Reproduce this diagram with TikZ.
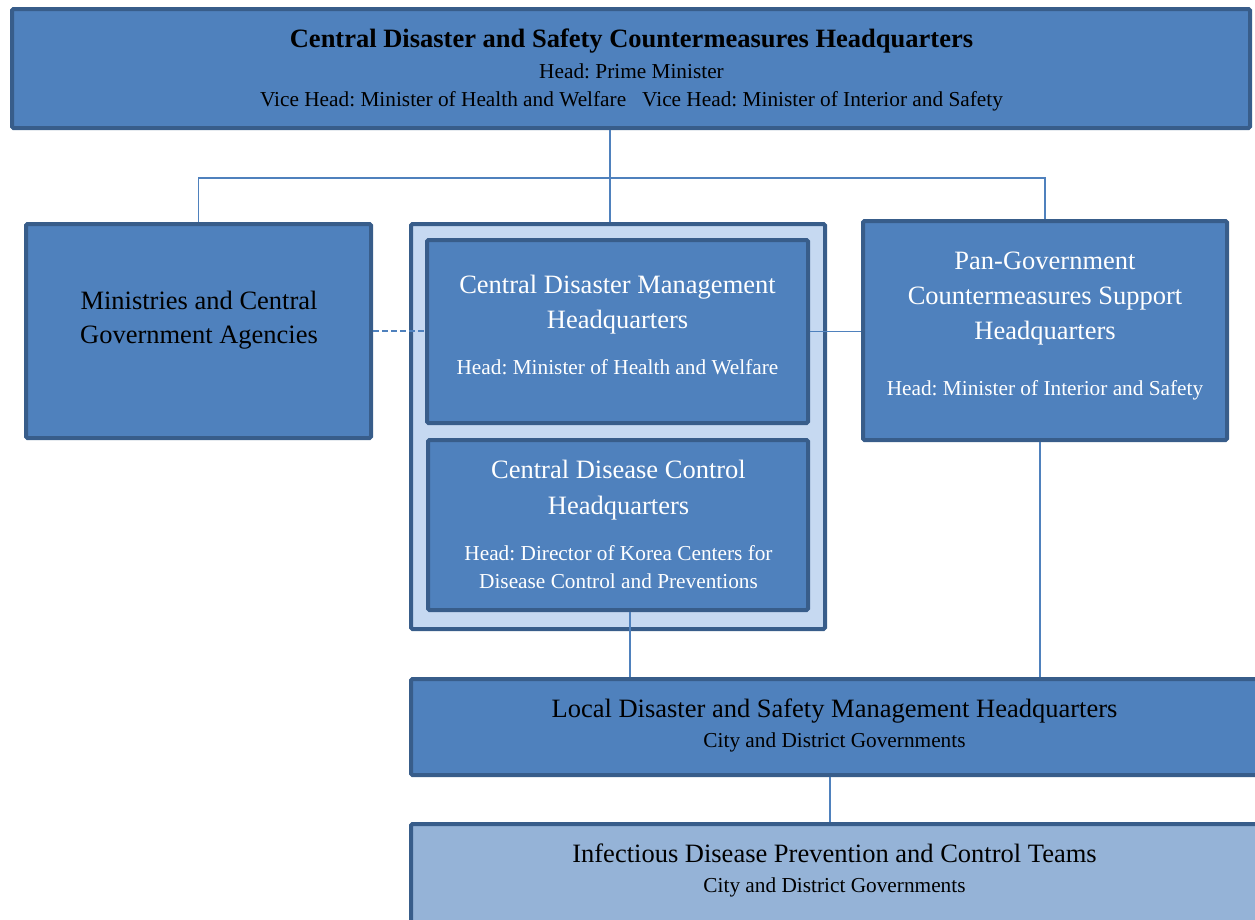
\documentclass[tikz,border=0pt]{standalone}
\usepackage{fontspec}
\setmainfont{Liberation Serif}
\definecolor{fillblue}{HTML}{4F81BD}
\definecolor{edgeblue}{HTML}{385D8A}
\definecolor{paleblue}{HTML}{C6D9F1}
\definecolor{midblue}{HTML}{95B3D7}
\begin{document}
\frenchspacing
\begin{tikzpicture}[x=1pt,y=-1pt,
  box/.style={rectangle, draw=edgeblue, line width=4pt, fill=fillblue, rounded corners=1.5pt, inner sep=0pt},
  conn/.style={draw=fillblue, line width=1.5pt},
  big/.style={font=\fontsize{26.5}{30}\selectfont, anchor=base, inner sep=0pt},
  small/.style={font=\fontsize{21.3}{25}\selectfont, anchor=base, inner sep=0pt},
]
\clip (0,0) rectangle (1255,919);
% boxes
\node[box, minimum width=1238pt, minimum height=119pt] (top) at (631,68.5) {};
\node[box, minimum width=345pt, minimum height=214pt] (left) at (198.5,331) {};
\node[box, fill=paleblue, minimum width=414pt, minimum height=405pt] (frame) at (618,426.5) {};
\node[box, minimum width=381pt, minimum height=183pt] (inner1) at (617.5,331.5) {};
\node[box, minimum width=380pt, minimum height=170pt] (inner2) at (618,525) {};
\node[box, minimum width=364pt, minimum height=219pt] (right) at (1045,330.5) {};
\node[box, minimum width=851pt, minimum height=96pt] (local) at (836.5,727) {};
\node[box, fill=midblue, minimum width=851pt, minimum height=106pt] (teams) at (836.5,877) {};
% texts
\node[big, font=\fontsize{26.5}{30}\selectfont\bfseries] (t1) at (631.5,47) {Central Disaster and Safety Countermeasures Headquarters};
\node[small] (t2) at (631.5,78) {Head: Prime Minister};
\node[small] (t3) at (631.5,106) {Vice Head: Minister of Health and Welfare\hspace{16pt}Vice Head: Minister of Interior and Safety};
\node[big] (l1) at (199,309) {Ministries and Central};
\node[big] (l2) at (199,343) {Government Agencies};
\node[big, text=white] (a1) at (617.5,293) {Central Disaster Management};
\node[big, text=white] (a2) at (617.5,328) {Headquarters};
\node[small, text=white] (a3) at (617.5,374) {Head: Minister of Health and Welfare};
\node[big, text=white] (b1) at (618.5,478) {Central Disease Control};
\node[big, text=white] (b2) at (618.5,514) {Headquarters};
\node[small, text=white] (b3) at (618.5,560) {Head: Director of Korea Centers for};
\node[small, text=white] (b4) at (618.5,588) {Disease Control and Preventions};
\node[big, text=white] (r1) at (1045,269) {Pan-Government};
\node[big, text=white] (r2) at (1045,304) {Countermeasures Support};
\node[big, text=white] (r3) at (1045,339) {Headquarters};
\node[small, text=white] (r4) at (1045,395) {Head: Minister of Interior and Safety};
\node[big] (d1) at (834.5,717) {Local Disaster and Safety Management Headquarters};
\node[small] (d2) at (834.5,747) {City and District Governments};
\node[big] (e1) at (834.5,862) {Infectious Disease Prevention and Control Teams};
\node[small] (e2) at (834.5,892) {City and District Governments};
% connectors
\coordinate (bus) at (610,178);
\coordinate (lx) at (630,650);
\coordinate (rx) at (1040,650);
\coordinate (bx) at (830,800);
\draw[conn] (top.south -| bus) -- (frame.north -| bus);
\draw[conn] (left.north) -- (left.north |- bus) -- (right.north |- bus) -- (right.north);
\draw[conn, dash pattern=on 6pt off 3pt] (left.east) -- (left.east -| inner1.west);
\draw[conn] (inner1.east) -- (inner1.east -| right.west);
\draw[conn] (inner2.south -| lx) -- (local.north -| lx);
\draw[conn] (right.south -| rx) -- (local.north -| rx);
\draw[conn] (local.south -| bx) -- (teams.north -| bx);
\end{tikzpicture}
\end{document}
